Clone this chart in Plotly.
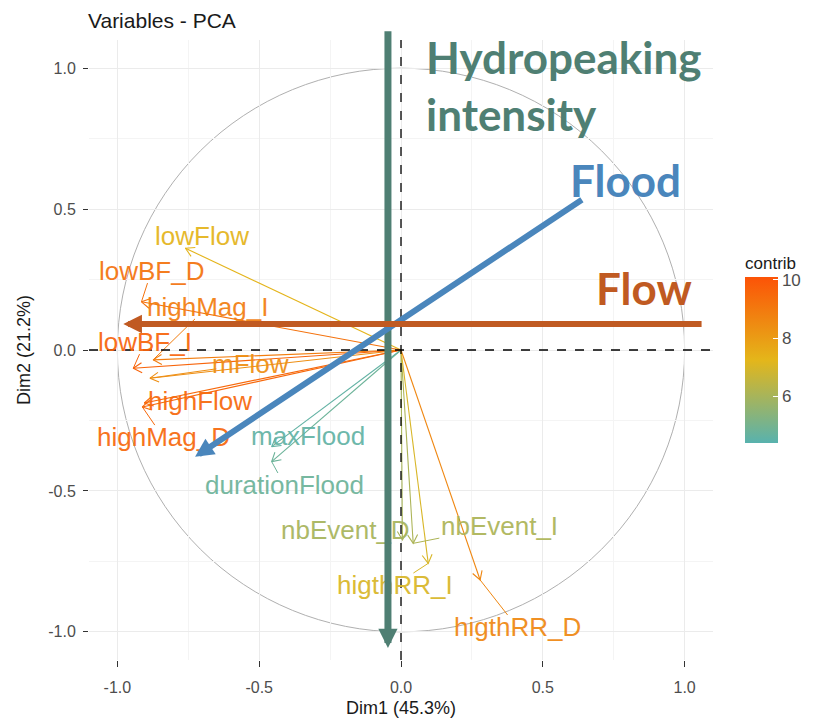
import math
import plotly.graph_objects as go
from plotly.colors import sample_colorscale

# ---- data ----
variables = ["lowFlow", "lowBF_D", "highMag_I", "lowBF_I", "mFlow", "highFlow", "highMag_D",
             "maxFlood", "durationFlood", "nbEvent_D", "nbEvent_I", "higthRR_I", "higthRR_D"]
dim1 = [-0.760, -0.915, -0.874, -0.944, -0.885, -0.905, -0.912,
        -0.456, -0.456, 0.005, 0.043, 0.096, 0.279]
dim2 = [0.361, 0.171, -0.035, -0.065, -0.100, -0.188, -0.202,
        -0.343, -0.396, -0.674, -0.686, -0.757, -0.816]
contrib = [7.3, 9.2, 8.9, 9.6, 8.4, 9.5, 9.5, 4.6, 4.8, 6.0, 6.1, 7.0, 8.6]

# repelled label positions (data units)
label_x = [-0.702, -0.880, -0.683, -0.903, -0.532, -0.709, -0.839,
           -0.328, -0.411, -0.197, 0.348, -0.021, 0.409]
label_y = [0.405, 0.280, 0.153, 0.028, -0.050, -0.180, -0.309,
           -0.305, -0.479, -0.639, -0.625, -0.834, -0.983]

tick_vals = [-1.0, -0.5, 0.0, 0.5, 1.0]
tick_text = ["-1.0", "-0.5", "0.0", "0.5", "1.0"]
minor_vals = [-0.75, -0.25, 0.25, 0.75]

# hand-drawn overlay arrows: tail -> head
overlay_names = ["Hydropeaking", "Flood", "Flow"]
overlay_tail_x = [-0.046, 0.643, 1.065]
overlay_tail_y = [1.136, 0.537, 0.092]
overlay_head_x = [-0.046, -0.726, -0.979]
overlay_head_y = [-1.057, -0.379, 0.092]
overlay_colors = ["#4F7F73", "#4A86BC", "#C05A22"]

cmin, cmax = 4.4, 10.1
cscale = [[0.0, "#58B2AE"], [0.5, "#E4B61A"], [1.0, "#FC5307"]]
colors = sample_colorscale(cscale, [(c - cmin) / (cmax - cmin) for c in contrib])

# page body has an 8px margin, so the figure is sized/positioned to compensate
W, H = 808, 713
ML, MR, MT, MB = 81, 103, 32, 61
plot_h = H - MT - MB

fig = go.Figure()

# variable arrows
L = 0.035
spread = math.pi / 6
for name, x, y, col in zip(variables, dim1, dim2, colors):
    ang = math.atan2(y, x)
    lx = x - L * math.cos(ang - spread)
    ly = y - L * math.sin(ang - spread)
    rx = x - L * math.cos(ang + spread)
    ry = y - L * math.sin(ang + spread)
    fig.add_trace(go.Scatter(
        x=[0, x, None, lx, x, rx], y=[0, y, None, ly, y, ry],
        mode="lines", line=dict(color=col, width=1.1), hoverinfo="skip", showlegend=False))

# label-to-tip segments (repel style)
font_px = 26
for name, x, y, tx, ty, col in zip(variables, dim1, dim2, label_x, label_y, colors):
    hw = len(name) * 0.52 * font_px / 2 / 283.6
    hh = 12 / 281.8
    dx, dy = x - tx, y - ty
    if abs(dx) <= hw and abs(dy) <= hh:
        continue
    t = min(hw / abs(dx) if dx else 1e9, hh / abs(dy) if dy else 1e9)
    bx, by = tx + dx * t, ty + dy * t
    fig.add_trace(go.Scatter(x=[bx, x], y=[by, y], mode="lines",
                             line=dict(color=col, width=1), hoverinfo="skip", showlegend=False))

# colorbar carrier
fig.add_trace(go.Scatter(
    x=dim1, y=dim2, mode="markers", hoverinfo="skip", showlegend=False,
    marker=dict(size=0.1, opacity=0, color=contrib, colorscale=cscale, cmin=cmin, cmax=cmax,
                showscale=True,
                colorbar=dict(title=dict(text="contrib", side="top",
                                         font=dict(size=17, color="#1a1a1a", family="Liberation Sans")),
                              x=(737 - ML) / (W - ML - MR), xanchor="left", xpad=0,
                              y=(H - MB - 245) / plot_h, yanchor="top", ypad=0,
                              lenmode="pixels", len=190, thickness=33, outlinewidth=0,
                              tickvals=[6, 8, 10], ticks="inside", ticklen=5, tickcolor="white",
                              tickfont=dict(size=17, color="#4D4D4D", family="Liberation Sans")))))

annotations = []
for name, tx, ty, col in zip(variables, label_x, label_y, colors):
    annotations.append(dict(x=tx, y=ty, xref="x", yref="y", text=name, showarrow=False,
                            xanchor="center", yanchor="middle", opacity=0.92,
                            font=dict(size=font_px, color=col, family="Liberation Sans")))

arrow_w = [7, 6, 6]
arrow_s = [0.55, 0.62, 0.62]
for i in range(3):
    annotations.append(dict(x=overlay_head_x[i], y=overlay_head_y[i], ax=overlay_tail_x[i],
                            ay=overlay_tail_y[i], xref="x", yref="y", axref="x", ayref="y",
                            text="", showarrow=True, arrowhead=2, arrowwidth=arrow_w[i],
                            arrowsize=arrow_s[i], arrowcolor=overlay_colors[i], standoff=0))

big_font = dict(family="Lato", size=44, weight="bold")
annotations += [
    dict(x=0.080, y=1.040, xref="x", yref="y", text="Hydropeaking", showarrow=False,
         xanchor="left", yanchor="middle", font=dict(**big_font, color=overlay_colors[0])),
    dict(x=0.080, y=0.838, xref="x", yref="y", text="intensity", showarrow=False,
         xanchor="left", yanchor="middle", font=dict(**big_font, color=overlay_colors[0])),
    dict(x=0.793, y=0.603, xref="x", yref="y", text="Flood", showarrow=False,
         xanchor="center", yanchor="middle", font=dict(**big_font, color=overlay_colors[1])),
    dict(x=0.857, y=0.220, xref="x", yref="y", text="Flow", showarrow=False,
         xanchor="center", yanchor="middle", font=dict(**big_font, color=overlay_colors[2])),
]

shapes = [
    dict(type="circle", xref="x", yref="y", x0=-1, y0=-1, x1=1, y1=1,
         line=dict(color="#A6A6A6", width=0.9), layer="below"),
    dict(type="line", xref="x", yref="paper", x0=0, x1=0, y0=0, y1=1,
         line=dict(color="black", width=1.3, dash="dash"), layer="above"),
    dict(type="line", xref="paper", yref="y", x0=0, x1=1, y0=0, y1=0,
         line=dict(color="black", width=1.3, dash="dash"), layer="above"),
]

axis_common = dict(
    range=[-1.1, 1.1], tickvals=tick_vals, ticktext=tick_text, showgrid=True,
    gridcolor="#EBEBEB", gridwidth=1, zeroline=False, showline=False, automargin=False,
    ticks="outside", tickcolor="#333333", tickwidth=1,
    tickfont=dict(size=16, color="#4D4D4D", family="Liberation Sans"),
    minor=dict(tickvals=minor_vals, showgrid=True, gridcolor="#F4F4F4", gridwidth=1, ticks=""),
)

fig.update_layout(
    width=W, height=H,
    margin=dict(l=ML, r=MR, t=MT, b=MB, autoexpand=False),
    plot_bgcolor="white", paper_bgcolor="white",
    showlegend=False,
    title=dict(text="Variables - PCA", x=80 / W, xanchor="left", y=1 - 13 / H, yanchor="middle",
               font=dict(size=21, color="#1a1a1a", family="Liberation Sans")),
    xaxis=dict(**axis_common, ticklen=6, ticklabelstandoff=7,
               title=dict(text="Dim1 (45.3%)", standoff=6,
                          font=dict(size=18, color="#1a1a1a", family="Liberation Sans"))),
    yaxis=dict(**axis_common, ticklen=5, ticklabelstandoff=4,
               title=dict(text="Dim2 (21.2%)", standoff=12,
                          font=dict(size=18, color="#1a1a1a", family="Liberation Sans"))),
    shapes=shapes,
    annotations=annotations,
)

fig.write_html("out.html")
